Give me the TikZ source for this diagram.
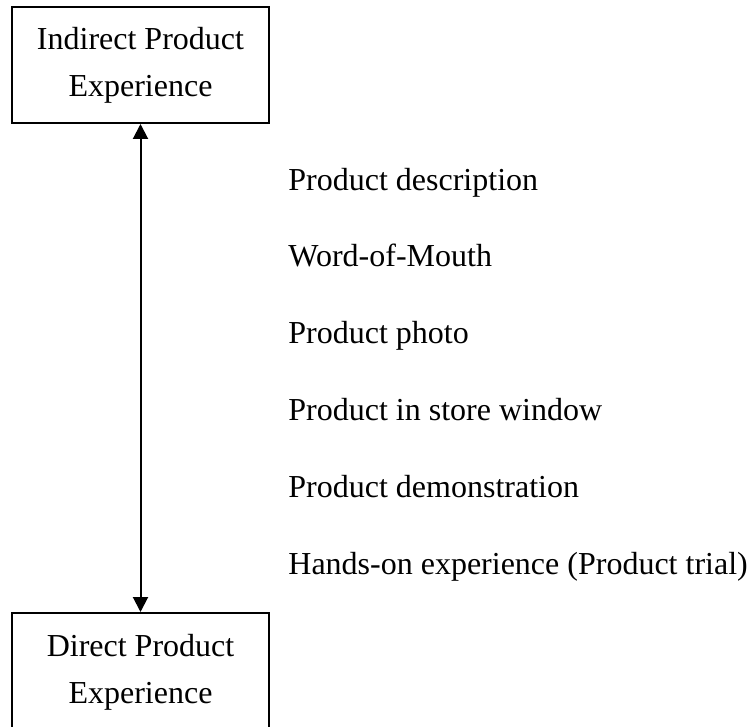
\documentclass[tikz,border=0pt]{standalone}
\usepackage{fontspec}
\setmainfont{Liberation Serif}
\usepackage{tikz}
\usetikzlibrary{arrows.meta,positioning}

\begin{document}
\begin{tikzpicture}[
  x=0.5pt, y=-0.5pt,
  node distance=22.8pt,
  box/.style={rectangle, draw=black, line width=1pt,
              minimum width=128.5pt, minimum height=58pt,
              align=center, font=\fontsize{16}{23.5}\selectfont},
  item/.style={inner sep=0pt, text height=11.2pt, text depth=4pt,
               font=\fontsize{16}{19}\selectfont},
  arr/.style={{Triangle[length=7.5pt,width=7.5pt]}-{Triangle[length=7.5pt,width=7.5pt]},
              line width=1pt}
]
\useasboundingbox (0,0) rectangle (755,727);

\node[box] (indirect) at (140.5,65) {Indirect Product\\Experience};
\node[box, minimum height=59pt, below=244pt of indirect] (direct) {Direct Product\\Experience};

\draw[arr] (indirect) -- (direct);

% stimuli, from indirect to direct
\node[item, anchor=west] (desc) at (288,183) {Product description};
\node[item, below=of desc.south west, anchor=north west]  (wom)   {Word-of-Mouth};
\node[item, below=of wom.south west, anchor=north west]   (photo) {Product photo};
\node[item, below=of photo.south west, anchor=north west] (store) {Product in store window};
\node[item, below=of store.south west, anchor=north west] (demo)  {Product demonstration};
\node[item, below=of demo.south west, anchor=north west]  (trial) {Hands-on experience (Product trial)};
\end{tikzpicture}
\end{document}
